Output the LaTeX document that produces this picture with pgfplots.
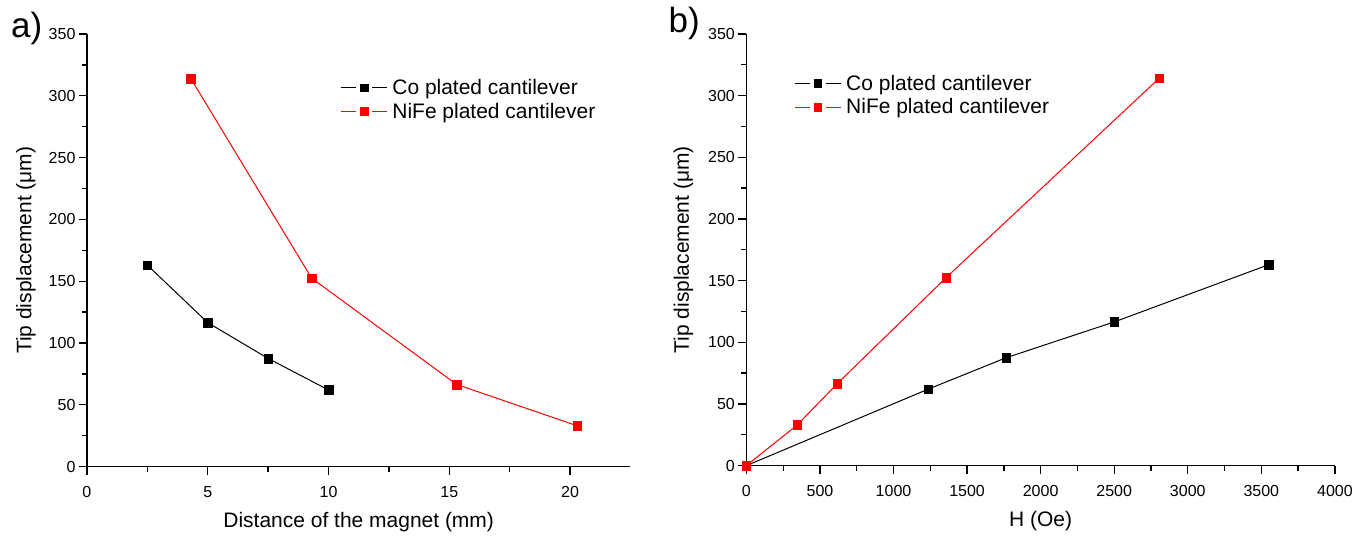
\documentclass[border=0pt]{standalone}
\usepackage{fontspec}
\setmainfont{Liberation Sans}
\usepackage{pgfplots}
\pgfplotsset{compat=1.18}
\definecolor{CoBlack}{HTML}{000000}
\definecolor{NiRed}{HTML}{FF0000}
\pgfplotsset{panel/.style={
  scale only axis,
  axis lines=left, axis line style={-,line width=1.5pt},
  tick align=outside, major tick length=8pt, minor tick length=5pt,
  every tick/.style={line width=1.3pt,black},
  minor x tick num=1, minor y tick num=1,
  ymin=0, ymax=350, ytick={0,50,...,350},
  tick label style={font=\fontsize{16}{19}\selectfont},
  xticklabel style={yshift=-8pt},
  /pgf/number format/assume math mode=true,
  /pgf/number format/1000 sep={},
  scaled ticks=false,
  label style={font=\fontsize{21}{25}\selectfont},
  xlabel style={at={(axis description cs:0.5,0)},anchor=center,yshift=-56pt},
  legend style={draw=none,fill=none,font=\fontsize{21}{24}\selectfont,
    legend cell align=left,row sep=3pt,inner sep=0pt,
    nodes={inner xsep=5pt}},
  legend image code/.code={\draw[mark=none] (0pt,0pt)--(15pt,0pt) (31pt,0pt)--(46pt,0pt);
    \draw[mark repeat=1,mark size=3.8pt] plot[only marks] coordinates {(23pt,0pt)};},
  clip=false}}
\pgfplotsset{co/.style={color=CoBlack,line width=1pt,mark=square*,mark size=4.3pt,mark options={solid,fill=CoBlack,draw=CoBlack,line width=0.4pt}},
  nife/.style={color=NiRed,line width=1pt,mark=square*,mark size=4.3pt,mark options={solid,fill=NiRed,draw=NiRed,line width=0.4pt}}}
\begin{document}
\begin{tikzpicture}
\path (0pt,0pt) rectangle (1356pt,533pt);
\begin{axis}[panel,at={(87pt,66pt)},anchor=south west,width=544pt,height=433pt,
  xmin=0,xmax=22.5,xtick={0,5,10,15,20},
  xlabel={Distance of the magnet (mm)},ylabel={Tip displacement (μm)},
  ylabel style={at={(axis description cs:-0.112,0.5)},anchor=center},
  legend style={at={(axis description cs:0.466,0.9)},anchor=north west}]
\addplot[co] coordinates {(2.5,163) (5,116.5) (7.5,87.5) (10,62)};
\addlegendentry{Co plated cantilever}
\addplot[nife] coordinates {(4.3,314) (9.3,152.5) (15.3,66.5) (20.3,33)};
\addlegendentry{NiFe plated cantilever}
\end{axis}
\begin{axis}[panel,at={(747pt,67pt)},anchor=south west,width=589pt,height=432pt,
  xmin=0,xmax=4000,xtick={0,500,...,4000},
  xlabel={H (Oe)},ylabel={Tip displacement (μm)},
  ylabel style={at={(axis description cs:-0.107,0.5)},anchor=center},
  legend style={at={(axis description cs:0.081,0.91)},anchor=north west}]
\addplot[co] coordinates {(0,0) (1236,62) (1766,87.5) (2500,116.5) (3552,163)};
\addlegendentry{Co plated cantilever}
\addplot[nife] coordinates {(0,0) (346,33) (618,66.5) (1358,152.5) (2805,314)};
\addlegendentry{NiFe plated cantilever}
\end{axis}
\node[anchor=base west,font=\fontsize{35}{40}\selectfont,inner sep=0pt] at (11pt,495pt) {a)};
\node[anchor=base west,font=\fontsize{35}{40}\selectfont,inner sep=0pt] at (669pt,500pt) {b)};
\end{tikzpicture}
\end{document}
